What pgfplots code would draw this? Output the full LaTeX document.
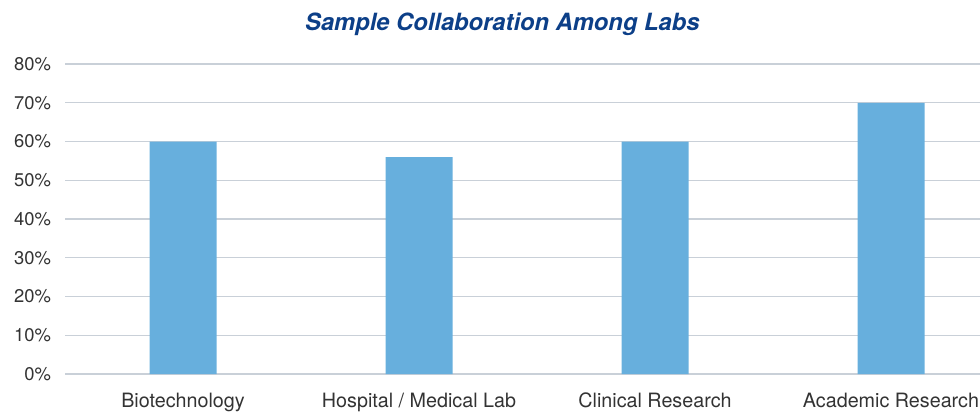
\documentclass[border=0pt]{standalone}
\usepackage{pgfplots}
\pgfplotsset{compat=1.18}
\usepackage{fontspec}
\setmainfont{TeX Gyre Heros}
\definecolor{barblue}{HTML}{67AFDD}
\definecolor{gridc}{HTML}{C9D0D8}
\definecolor{titleblue}{HTML}{0C3F88}
\definecolor{labc}{HTML}{333333}
\begin{document}
\begin{tikzpicture}
\begin{axis}[
  scale only axis,
  width=708pt, height=232.5pt,
  xmin=-0.5, xmax=3.5, ymin=0, ymax=80,
  ybar, bar width=50.25pt,
  axis line style={draw=none},
  major tick length=0pt,
  ymajorgrids, grid style={gridc, line width=0.9pt},
  ytick={0,10,...,80},
  yticklabels={0\%,10\%,20\%,30\%,40\%,50\%,60\%,70\%,80\%},
  xtick={0,1,2,3},
  xticklabels={Biotechnology, Hospital / Medical Lab, Clinical Research, Academic Research},
  tick label style={text=labc},
  yticklabel style={xshift=-7pt, font=\fontsize{13.8}{16}\selectfont},
  xticklabel style={yshift=-10.5pt, font=\fontsize{14.8}{17}\selectfont},
  clip=false,
]
\addplot[fill=barblue, draw=none] coordinates {(0,60) (1,56) (2,60) (3,70)};
\end{axis}
\node[font=\fontsize{17.8}{21}\selectfont\bfseries\itshape, text=titleblue] at (328pt,262.5pt) {Sample Collaboration Among Labs};
\pgfresetboundingbox
\path (-48.75pt,-28.5pt) rectangle (686.25pt,280.5pt);
\end{tikzpicture}
\end{document}
